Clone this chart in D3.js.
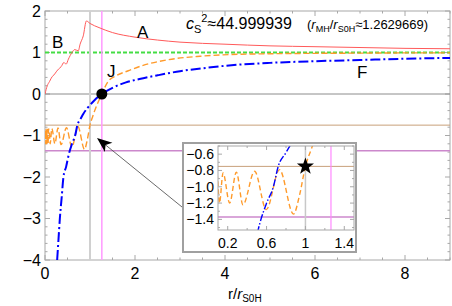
<!DOCTYPE html>
<html>
<head>
<meta charset="utf-8">
<script src="https://cdn.jsdelivr.net/npm/d3@7"></script>
<style>
  body { margin: 0; background: #fff; }
  svg text { font-family: "Liberation Sans", Arial, sans-serif; }
</style>
</head>
<body>
<div class="chart"></div>
<script>
// values
const redX = [0, 0.05, 0.1, 0.16, 0.2, 0.26, 0.3, 0.36, 0.42, 0.47, 0.52, 0.6, 0.66, 0.74, 0.78, 0.85, 0.92, 1.0, 1.2, 1.5, 2.0, 2.5, 3, 4, 5, 6, 7, 8, 9];
const redY = [0, 0.2, 0.3, 0.42, 0.46, 0.55, 0.6, 0.66, 0.76, 0.72, 0.84, 1.0, 1.07, 1.04, 1.2, 1.4, 1.76, 1.7, 1.6, 1.48, 1.37, 1.3, 1.25, 1.2, 1.16, 1.14, 1.12, 1.1, 1.09];

const blueX = [0.27, 0.3, 0.33, 0.37, 0.41, 0.47, 0.53, 0.6, 0.67, 0.72, 0.8, 0.85, 0.95, 1.1, 1.263, 1.5, 1.8, 2.1, 2.5, 3, 3.5, 4, 5, 6, 7, 8, 9];
const blueY = [-4, -3.5, -3, -2.5, -2, -1.75, -1.45, -1.2, -1, -0.75, -0.58, -0.48, -0.33, -0.15, 0, 0.15, 0.28, 0.36, 0.45, 0.55, 0.62, 0.68, 0.75, 0.79, 0.82, 0.85, 0.87];

const orangeX = [0.004, 0.01, 0.016, 0.023, 0.03, 0.038, 0.047, 0.057, 0.068, 0.08, 0.092, 0.115, 0.152, 0.22, 0.289, 0.357, 0.477, 0.597, 0.733, 0.877, 0.94, 1.0, 1.06, 1.263, 1.4, 1.6, 1.85, 2.15, 2.7, 3.45, 4.1, 5, 6, 7, 8, 9];
const orangeY = [-1.0, -0.86, -1.2, -0.85, -1.2, -0.85, -1.2, -0.85, -1.2, -0.84, -0.86, -1.2, -0.83, -1.2, -0.82, -1.22, -0.81, -1.28, -0.79, -1.335, -1.1, -0.75, -0.54, 0, 0.3, 0.45, 0.56, 0.68, 0.82, 0.91, 0.95, 0.97, 0.98, 0.985, 0.99, 0.99];

const hLines = [1, 0, -0.75, -1.37];          // green, gray, tan, purple
const vLines = [1, 1.2629669];                  // gray, pink
const xTicks = [0, 2, 4, 6, 8];
const yTicks = [-4, -3, -2, -1, 0, 1, 2];
const insetXTicks = [0.2, 0.6, 1, 1.4];
const insetYTicks = [-1.4, -1.2, -1.0, -0.8, -0.6];
const star = [1, -0.75];

const W = 452, H = 306;
const svg = d3.select(".chart").append("svg").attr("width", W).attr("height", H);

const x = d3.scaleLinear().domain([0, 9]).range([45, 450]);
const y = d3.scaleLinear().domain([-4, 2]).range([260, 11]);

svg.append("clipPath").attr("id", "mainclip").append("rect")
  .attr("x", 45).attr("y", 11).attr("width", 405).attr("height", 249);

const fmt = v => (v < 0 ? "\u2212" : "") + Math.abs(v);

// frame + ticks
function frame(g, sx, sy, xt, xminor, yt, yminor, major, minor) {
  const [x0, x1] = sx.range(), [y0, y1] = sy.range();
  g.append("rect").attr("x", x0).attr("y", y1).attr("width", x1 - x0).attr("height", y0 - y1)
    .attr("fill", "none").attr("stroke", "#a8a8a8").attr("stroke-width", 1);
  const tk = g.append("g").attr("stroke", "#a8a8a8").attr("stroke-width", 1);
  xminor.forEach(v => {
    const len = xt.includes(v) ? major : minor;
    tk.append("line").attr("x1", sx(v)).attr("x2", sx(v)).attr("y1", y0).attr("y2", y0 - len);
    tk.append("line").attr("x1", sx(v)).attr("x2", sx(v)).attr("y1", y1).attr("y2", y1 + len);
  });
  yminor.forEach(v => {
    const len = yt.some(t => Math.abs(t - v) < 1e-6) ? major : minor;
    tk.append("line").attr("y1", sy(v)).attr("y2", sy(v)).attr("x1", x0).attr("x2", x0 + len);
    tk.append("line").attr("y1", sy(v)).attr("y2", sy(v)).attr("x1", x1).attr("x2", x1 - len);
  });
}

const main = svg.append("g");
frame(main, x, y, xTicks, d3.range(0, 9.01, 0.5), yTicks, d3.range(-4, 2.001, 0.2).map(v => +v.toFixed(2)), 5, 2.5);

main.selectAll(".xl").data(xTicks).enter().append("text")
  .attr("x", d => x(d)).attr("y", 279).attr("text-anchor", "middle")
  .attr("font-size", 16).text(d => d);
main.selectAll(".yl").data(yTicks).enter().append("text")
  .attr("x", 41).attr("y", d => y(d) + 5.5).attr("text-anchor", "end")
  .attr("font-size", 16).text(fmt);

const xlab = main.append("text").attr("x", 228).attr("y", 299).attr("font-size", 15);
xlab.append("tspan").text("r/");
xlab.append("tspan").attr("font-style", "italic").text("r");
xlab.append("tspan").attr("font-size", 10).attr("dy", 3).text("S0H");

// reference lines
const plot = main.append("g").attr("clip-path", "url(#mainclip)");
const hColors = ["#44dd44", "#8c8c8c", "#c8a07a", "#cc88cc"];
const hWidths = [2, 1, 1, 1.5];
hLines.forEach((v, i) => {
  const l = plot.append("line").attr("x1", 45).attr("x2", 450).attr("y1", y(v)).attr("y2", y(v))
    .attr("stroke", hColors[i]).attr("stroke-width", hWidths[i]);
  if (i === 0) l.attr("stroke-dasharray", "4,2");
});
plot.append("line").attr("x1", x(vLines[0])).attr("x2", x(vLines[0])).attr("y1", 11).attr("y2", 260)
  .attr("stroke", "#d0d0d0").attr("stroke-width", 2);
plot.append("line").attr("x1", x(vLines[1])).attr("x2", x(vLines[1])).attr("y1", 11).attr("y2", 260)
  .attr("stroke", "#ff99ff").attr("stroke-width", 1.5);

function curve(g, sx, sy, xs, ys, color, w, dash) {
  const line = d3.line().x(d => sx(d[0])).y(d => sy(d[1])).curve(d3.curveMonotoneX);
  const p = g.append("path").datum(d3.zip(xs, ys)).attr("d", line)
    .attr("fill", "none").attr("stroke", color).attr("stroke-width", w);
  if (dash) p.attr("stroke-dasharray", dash);
}

curve(plot, x, y, redX, redY, "#ff5a5a", 1, null);
curve(plot, x, y, orangeX, orangeY, "#ff9a2a", 1.4, "6,3");
curve(plot, x, y, blueX, blueY, "#0000ff", 2, "10,3,2,3");

plot.append("circle").attr("cx", x(vLines[1])).attr("cy", y(0)).attr("r", 5.5).attr("fill", "#000");

// curve labels
const labs = [["A", 137, 38], ["B", 52, 48], ["J", 107, 77], ["F", 357, 78]];
labs.forEach(l => main.append("text").attr("x", l[1]).attr("y", l[2]).attr("font-size", 17).text(l[0]));

// title
const t1 = main.append("text").attr("x", 186).attr("y", 29).attr("font-size", 16);
t1.append("tspan").attr("font-style", "italic").text("c");
t1.append("tspan").attr("font-size", 11).attr("dy", 4).text("S");
t1.append("tspan").attr("font-size", 11).attr("dy", -11).text("2");
t1.append("tspan").attr("dy", 7).text("\u224844.999939");

const t2 = main.append("text").attr("x", 307).attr("y", 29).attr("font-size", 13);
t2.append("tspan").text("(");
t2.append("tspan").attr("font-style", "italic").text("r");
t2.append("tspan").attr("font-size", 9).attr("dy", 3).text("MH");
t2.append("tspan").attr("dy", -3).text("/");
t2.append("tspan").attr("font-style", "italic").text("r");
t2.append("tspan").attr("font-size", 9).attr("dy", 3).text("S0H");
t2.append("tspan").attr("dy", -3).text("\u22481.2629669)");

// inset
const xi = d3.scaleLinear().domain([0.1, 1.5]).range([218, 354]);
const yi = d3.scaleLinear().domain([-1.53, -0.5]).range([230, 146]);

const inset = svg.append("g");
inset.append("rect").attr("x", 183).attr("y", 143).attr("width", 173).attr("height", 109)
  .attr("fill", "#fff").attr("stroke", "#a0a0a0").attr("stroke-width", 2);
svg.append("clipPath").attr("id", "insetclip").append("rect")
  .attr("x", 218).attr("y", 146).attr("width", 136).attr("height", 84);

const ip = inset.append("g").attr("clip-path", "url(#insetclip)");
ip.append("line").attr("x1", 218).attr("x2", 354).attr("y1", yi(hLines[2])).attr("y2", yi(hLines[2]))
  .attr("stroke", "#c8a07a").attr("stroke-width", 1);
ip.append("line").attr("x1", 218).attr("x2", 354).attr("y1", yi(hLines[3])).attr("y2", yi(hLines[3]))
  .attr("stroke", "#cc88cc").attr("stroke-width", 1.5);
ip.append("line").attr("x1", xi(vLines[0])).attr("x2", xi(vLines[0])).attr("y1", 146).attr("y2", 230)
  .attr("stroke", "#c8c8c8").attr("stroke-width", 1.5);
ip.append("line").attr("x1", xi(vLines[1])).attr("x2", xi(vLines[1])).attr("y1", 146).attr("y2", 230)
  .attr("stroke", "#ff88ff").attr("stroke-width", 1.2);
curve(ip, xi, yi, orangeX, orangeY, "#ff9a2a", 1.4, "5,3");
curve(ip, xi, yi, blueX, blueY, "#0000ff", 1.4, "7,2,1.5,2");

frame(inset, xi, yi, insetXTicks, d3.range(0.2, 1.41, 0.2).map(v => +v.toFixed(2)), insetYTicks,
  d3.range(-1.5, -0.499, 0.1).map(v => +v.toFixed(2)), 4, 2);

inset.selectAll(".ixl").data(insetXTicks).enter().append("text")
  .attr("x", d => xi(d)).attr("y", 248).attr("text-anchor", "middle").attr("font-size", 14)
  .text(d => d);
inset.selectAll(".iyl").data(insetYTicks).enter().append("text")
  .attr("x", 214).attr("y", d => yi(d) + 5).attr("text-anchor", "end").attr("font-size", 14)
  .text(d => "\u2212" + Math.abs(d).toFixed(1));

const starPts = d3.range(10).map(i => {
  const r = i % 2 ? 3.6 : 9, a = -Math.PI / 2 + i * Math.PI / 5;
  return [xi(star[0]) + r * Math.cos(a), yi(star[1]) + r * Math.sin(a)];
});
inset.append("path").attr("d", "M" + starPts.join("L") + "Z").attr("fill", "#000");

// arrow to J
const ax0 = 182, ay0 = 207, ax1 = 97, ay1 = 138;
const ang = Math.atan2(ay1 - ay0, ax1 - ax0);
svg.append("line").attr("x1", ax0).attr("y1", ay0)
  .attr("x2", ax1 - 10 * Math.cos(ang)).attr("y2", ay1 - 10 * Math.sin(ang))
  .attr("stroke", "#444").attr("stroke-width", 0.8);
const head = [[0, 0], [-15, -6], [-11, 0], [-15, 6]].map(p => [
  ax1 + p[0] * Math.cos(ang) - p[1] * Math.sin(ang),
  ay1 + p[0] * Math.sin(ang) + p[1] * Math.cos(ang)]);
svg.append("path").attr("d", "M" + head.join("L") + "Z").attr("fill", "#000");
</script>
</body>
</html>
